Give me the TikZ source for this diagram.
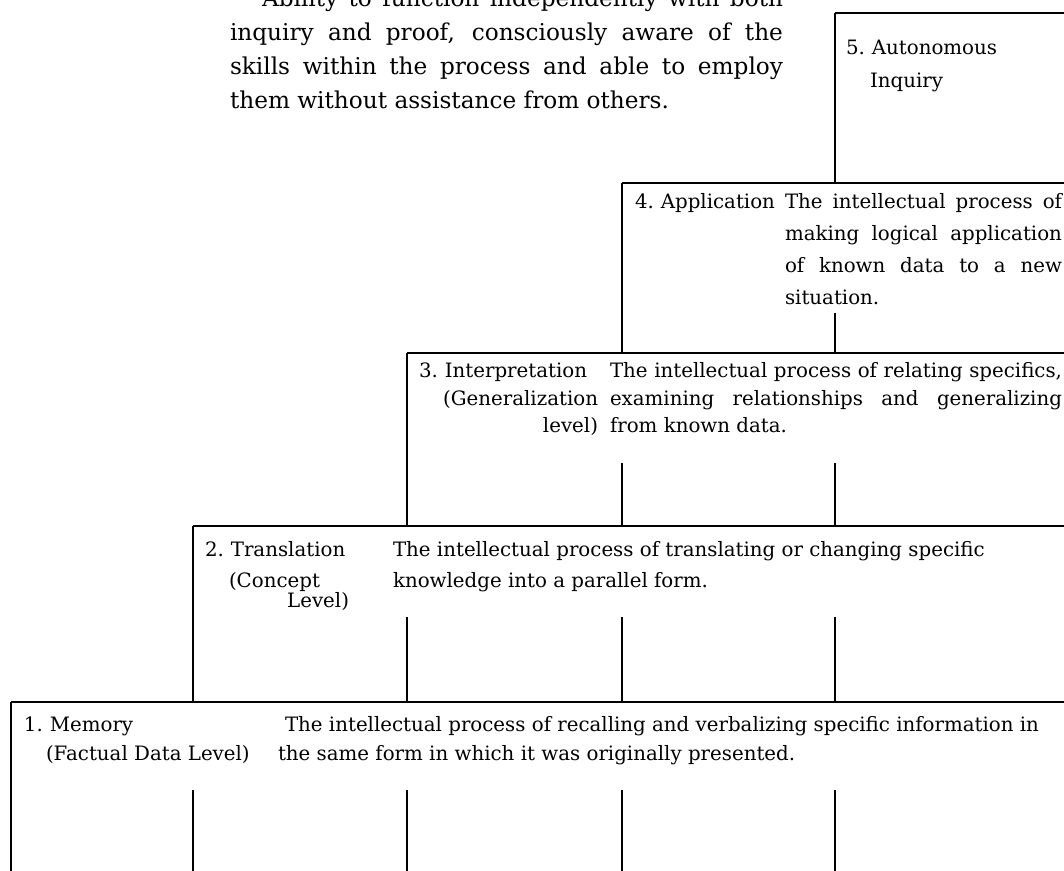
\documentclass[tikz,border=0pt]{standalone}
\usepackage{fontspec}
\setmainfont{DejaVu Serif}
\newcommand{\jl}[2]{\hbox to #1{\spaceskip=0.15em plus 1fill\relax #2}}
\begin{document}
\begin{tikzpicture}[x=0.5pt,y=-0.5pt,
  rule/.style={line width=0.6pt, black},
  txt/.style={inner sep=0pt, outer sep=0pt, anchor=base west, font=\fontsize{9.9pt}{12pt}\selectfont},
  txtr/.style={txt, anchor=base east},
  big/.style={txt, font=\fontsize{11.6pt}{14pt}\selectfont}]
\clip (0,0) rectangle (1064,871);
% ---------- rules ----------
% level 5
\draw[rule] (835,13) -- (1064,13);
\draw[rule] (835,13) -- (835,183);
% level 4
\draw[rule] (622,183) -- (1064,183);
\draw[rule] (622,183) -- (622,353);
\draw[rule] (835,313) -- (835,353);
% level 3
\draw[rule] (407,353) -- (1064,353);
\draw[rule] (407,353) -- (407,526);
\foreach \x in {622,835} \draw[rule] (\x,463) -- (\x,526);
% level 2
\draw[rule] (193,526) -- (1064,526);
\draw[rule] (193,526) -- (193,702);
\foreach \x in {407,622,835} \draw[rule] (\x,617) -- (\x,702);
% level 1
\draw[rule] (11,702) -- (1064,702);
\draw[rule] (11,702) -- (11,871);
\foreach \x in {193,407,622,835} \draw[rule] (\x,790) -- (\x,871);
% ---------- top paragraph ----------
\node[big] (p1) at (262,7) {\jl{260.5pt}{Ability to function independently with both}};
\node[big] (p2) at (230,41) {\jl{276.5pt}{inquiry and proof, consciously aware of the}};
\node[big] (p3) at (230,75) {\jl{276.5pt}{skills within the process and able to employ}};
\node[big] (p4) at (230,109) {them without assistance from others.};
% ---------- level 5 ----------
\node[txt] (l5a) at (846,55) {5.\hspace{0.35em}Autonomous};
\node[txt] (l5b) at (870,88) {Inquiry};
% ---------- level 4 ----------
\node[txt] (l4a) at (635,209) {4.\hspace{0.35em}Application};
\node[txt] (d4a) at (785,209) {\jl{138.5pt}{The intellectual process of}};
\node[txt] (d4b) at (785,241) {\jl{138.5pt}{making logical application}};
\node[txt] (d4c) at (785,273) {\jl{138.5pt}{of known data to a new}};
\node[txt] (d4d) at (785,305) {situation.};
% ---------- level 3 ----------
\node[txt] (l3a) at (419,378) {3.\hspace{0.35em}Interpretation};
\node[txtr] (l3b) at (598,405) {(Generalization};
\node[txtr] (l3c) at (598,432) {level)};
\node[txt] (d3a) at (610,378) {\jl{226pt}{The intellectual process of relating specifics,}};
\node[txt] (d3b) at (610,405) {\jl{226pt}{examining relationships and generalizing}};
\node[txt] (d3c) at (610,432) {from known data.};
% ---------- level 2 ----------
\node[txt] (l2a) at (205,556) {2.\hspace{0.35em}Translation};
\node[txt] (l2b) at (229,587) {(Concept};
\node[txtr] (l2c) at (349,607) {Level)};
\node[txt] (d2a) at (393,556) {The intellectual process of translating or changing specific};
\node[txt] (d2b) at (393,587) {knowledge into a parallel form.};
% ---------- level 1 ----------
\node[txt] (l1a) at (24,731) {1.\hspace{0.35em}Memory};
\node[txt] (l1b) at (46,760) {(Factual Data Level)};
\node[txt] (d1a) at (285,731) {The intellectual process of recalling and verbalizing specific information in};
\node[txt] (d1b) at (278,760) {the same form in which it was originally presented.};
\end{tikzpicture}
\end{document}
